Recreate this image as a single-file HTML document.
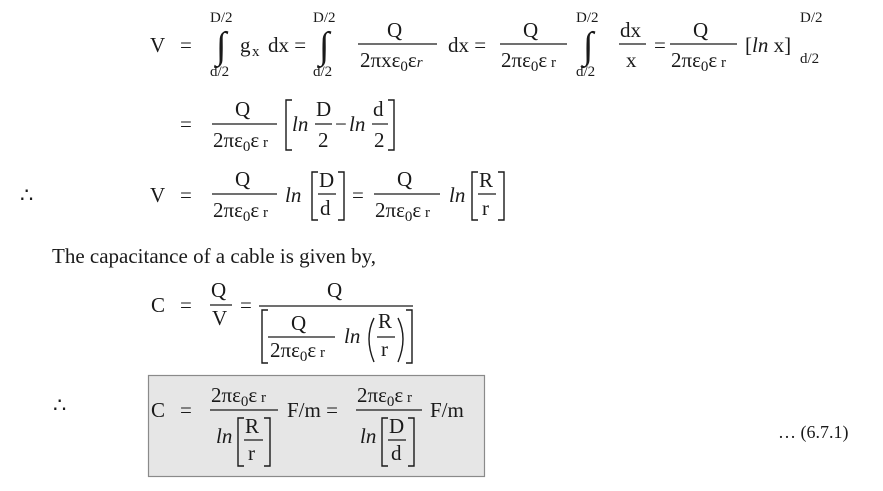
<!DOCTYPE html>
<html><head><meta charset="utf-8"><style>
html,body{margin:0;padding:0;background:#fff}
svg{display:block}
text{font-family:"Liberation Serif",serif;font-size:21px;fill:#1a1a1a}
.s{font-size:15px}
.i{font-style:italic}
line{stroke:#1a1a1a;stroke-width:1.2}
path{stroke:#1a1a1a;stroke-width:1.4;fill:none}
.int{font-size:38px}
</style></head><body>
<svg width="883" height="491" viewBox="0 0 883 491">
<!-- Row 1 -->
<text x="150" y="52">V</text><text x="180" y="52">=</text>
<text x="210" y="22" class="s">D/2</text><text x="210" y="76" class="s">d/2</text>
<text x="216" y="58" class="int">∫</text>
<text x="240" y="52">g</text><text x="252" y="56" class="s">x</text><text x="268" y="52">dx =</text>
<text x="313" y="22" class="s">D/2</text><text x="313" y="76" class="s">d/2</text>
<text x="319" y="58" class="int">∫</text>
<text x="387" y="37">Q</text><line x1="358" y1="44" x2="437" y2="44"/>
<text x="360" y="67">2πxε<tspan class="s" dy="4">0</tspan><tspan dy="-4">ε</tspan><tspan class="s i">r</tspan></text>
<text x="448" y="52">dx =</text>
<text x="523" y="37">Q</text><line x1="500" y1="44" x2="567" y2="44"/>
<text x="501" y="67">2πε<tspan class="s" dy="4">0</tspan><tspan dy="-4">ε</tspan><tspan class="s"> r</tspan></text>
<text x="576" y="22" class="s">D/2</text><text x="576" y="76" class="s">d/2</text>
<text x="583" y="58" class="int">∫</text>
<text x="620" y="37">dx</text><line x1="619" y1="44" x2="646" y2="44"/><text x="626" y="67">x</text>
<text x="654" y="52">=</text>
<text x="693" y="37">Q</text><line x1="670" y1="44" x2="737" y2="44"/>
<text x="671" y="67">2πε<tspan class="s" dy="4">0</tspan><tspan dy="-4">ε</tspan><tspan class="s"> r</tspan></text>
<text x="745" y="52">[<tspan class="i">ln</tspan> x]</text>
<text x="800" y="22" class="s">D/2</text><text x="800" y="63" class="s">d/2</text>
<!-- Row 2 -->
<text x="180" y="131">=</text>
<text x="235" y="116">Q</text><line x1="212" y1="124" x2="277" y2="124"/>
<text x="213" y="147">2πε<tspan class="s" dy="4">0</tspan><tspan dy="-4">ε</tspan><tspan class="s"> r</tspan></text>
<path d="M292 100 H286 V150 H292"/>
<text x="292" y="131" class="i">ln</text>
<text x="316" y="116">D</text><line x1="315" y1="124" x2="332" y2="124"/><text x="318" y="147">2</text>
<text x="335" y="131">−</text><text x="349" y="131" class="i">ln</text>
<text x="373" y="116">d</text><line x1="372" y1="124" x2="388" y2="124"/><text x="374" y="147">2</text>
<path d="M388 100 H394 V150 H388"/>
<!-- Row 3 -->
<text x="20" y="202">∴</text>
<text x="150" y="202">V</text><text x="180" y="202">=</text>
<text x="235" y="186">Q</text><line x1="212" y1="194" x2="277" y2="194"/>
<text x="213" y="217">2πε<tspan class="s" dy="4">0</tspan><tspan dy="-4">ε</tspan><tspan class="s"> r</tspan></text>
<text x="285" y="202" class="i">ln</text>
<path d="M318 172 H312 V220 H318"/>
<text x="319" y="187">D</text><line x1="318" y1="194" x2="336" y2="194"/><text x="320" y="215">d</text>
<path d="M338 172 H344 V220 H338"/>
<text x="352" y="202">=</text>
<text x="397" y="186">Q</text><line x1="374" y1="194" x2="440" y2="194"/>
<text x="375" y="217">2πε<tspan class="s" dy="4">0</tspan><tspan dy="-4">ε</tspan><tspan class="s"> r</tspan></text>
<text x="449" y="202" class="i">ln</text>
<path d="M478 172 H472 V220 H478"/>
<text x="479" y="187">R</text><line x1="478" y1="194" x2="496" y2="194"/><text x="482" y="215">r</text>
<path d="M498 172 H504 V220 H498"/>
<!-- text -->
<text x="52" y="263">The capacitance of a cable is given by,</text>
<!-- C row -->
<text x="151" y="312">C</text><text x="180" y="312">=</text>
<text x="211" y="297">Q</text><line x1="210" y1="305" x2="232" y2="305"/><text x="212" y="325">V</text>
<text x="240" y="312">=</text>
<text x="327" y="297">Q</text><line x1="259" y1="306" x2="413" y2="306"/>
<path d="M268 310 H262 V363 H268"/>
<text x="291" y="330">Q</text><line x1="268" y1="337" x2="335" y2="337"/>
<text x="270" y="357">2πε<tspan class="s" dy="4">0</tspan><tspan dy="-4">ε</tspan><tspan class="s"> r</tspan></text>
<text x="344" y="343" class="i">ln</text>
<path d="M374 318 Q364 338 374 362"/>
<text x="378" y="328">R</text><line x1="377" y1="337" x2="395" y2="337"/><text x="381" y="356">r</text>
<path d="M398 318 Q408 338 398 362"/>
<path d="M406 310 H412 V363 H406"/>
<!-- Box -->
<rect x="148.5" y="375.5" width="336" height="101" fill="#e6e6e6" stroke="#8a8a8a" stroke-width="1.2"/>
<text x="53" y="412">∴</text>
<text x="151" y="417">C</text><text x="180" y="417">=</text>
<text x="211" y="402">2πε<tspan class="s" dy="4">0</tspan><tspan dy="-4">ε</tspan><tspan class="s"> r</tspan></text>
<line x1="210" y1="410" x2="278" y2="410"/>
<text x="216" y="443" class="i">ln</text>
<path d="M244 418 H238 V466 H244"/>
<text x="245" y="433">R</text><line x1="244" y1="440" x2="263" y2="440"/><text x="248" y="460">r</text>
<path d="M264 418 H270 V466 H264"/>
<text x="287" y="417">F/m =</text>
<text x="357" y="402">2πε<tspan class="s" dy="4">0</tspan><tspan dy="-4">ε</tspan><tspan class="s"> r</tspan></text>
<line x1="356" y1="410" x2="422" y2="410"/>
<text x="360" y="443" class="i">ln</text>
<path d="M388 418 H382 V466 H388"/>
<text x="389" y="433">D</text><line x1="388" y1="440" x2="406" y2="440"/><text x="391" y="460">d</text>
<path d="M408 418 H414 V466 H408"/>
<text x="430" y="417">F/m</text>
<text x="778" y="438" style="font-size:18px">… (6.7.1)</text>
</svg>
</body></html>
